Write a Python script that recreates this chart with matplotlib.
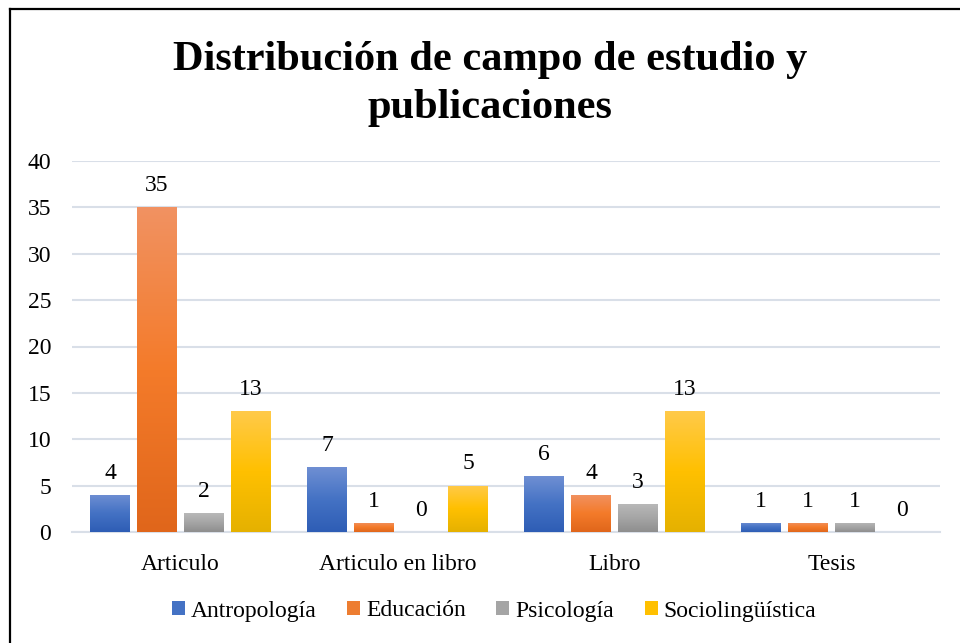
import numpy as np
import matplotlib.pyplot as plt
from matplotlib.colors import LinearSegmentedColormap
from matplotlib.patches import Patch

plt.rcParams['font.family'] = ['Liberation Serif', 'DejaVu Serif']

# Data
categories = ['Articulo', 'Articulo en libro', 'Libro', 'Tesis']
series = ['Antropología', 'Educación', 'Psicología', 'Sociolingüística']
antropologia = [4, 7, 6, 1]
educacion = [35, 1, 4, 1]
psicologia = [2, 0, 3, 1]
sociolinguistica = [13, 5, 13, 0]
values = [antropologia, educacion, psicologia, sociolinguistica]

# gradient stops (top, middle, bottom) per series
grad_colors = [
    ['#6f8fd3', '#4472c4', '#2e5db5'],
    ['#f19262', '#f47b2a', '#e0661b'],
    ['#b8b8b8', '#a5a5a5', '#8e8e8e'],
    ['#ffca4a', '#ffc000', '#e5b100'],
]
legend_colors = ['#4472c4', '#ed7d31', '#a5a5a5', '#ffc000']
grid_color = '#d9dfe8'

fig = plt.figure(figsize=(9.6, 6.43), dpi=100)
W, H = 960, 643

# chart border (cropped: only left and top edges visible)
fig.add_artist(plt.Line2D([10 / W, 10 / W], [0, 1 - 9 / H], color='black', lw=1.6))
fig.add_artist(plt.Line2D([10 / W, 1], [1 - 9 / H, 1 - 9 / H], color='black', lw=1.6))

ax = fig.add_axes([72 / W, 1 - 532 / H, 868 / W, 371 / H])

x = np.arange(len(categories))
bar_w = 0.18
step = 0.2166

grad = np.linspace(0, 1, 256).reshape(-1, 1)
for i, (vals, cols) in enumerate(zip(values, grad_colors)):
    cmap = LinearSegmentedColormap.from_list(f'g{i}', cols[::-1])
    pos = x + (i - 1.5) * step
    bars = ax.bar(pos, vals, width=bar_w, color='none', edgecolor='none', zorder=3)
    for b, v in zip(bars, vals):
        bx, bw = b.get_x(), b.get_width()
        if v > 0:
            im = ax.imshow(grad, cmap=cmap, aspect='auto', origin='lower',
                           extent=[bx, bx + bw, 0, v], zorder=3)
            im.set_clip_path(b)
        ax.text(bx + bw / 2, v + 1.2, str(v), ha='center', va='bottom',
                fontsize=17, zorder=4)

ax.set_xlim(-0.5, len(categories) - 0.5)
ax.set_ylim(0, 40)
ax.set_yticks(range(0, 41, 5))
ax.set_xticks(x)
ax.set_xticklabels(categories)
ax.tick_params(axis='both', length=0, labelsize=17, colors='black')
ax.tick_params(axis='y', pad=15)
ax.tick_params(axis='x', pad=16)
ax.grid(axis='y', color=grid_color, lw=1.5, zorder=0)
ax.set_axisbelow(True)
for s in ['top', 'right', 'left']:
    ax.spines[s].set_visible(False)
ax.spines['bottom'].set_color(grid_color)
ax.spines['bottom'].set_linewidth(1.5)

fig.text(490 / W, 1 - 84 / H, 'Distribución de campo de estudio y\npublicaciones',
         ha='center', va='center', fontsize=30.5, fontweight='bold', linespacing=1.32)

handles = [Patch(facecolor=c, edgecolor='none') for c in legend_colors]
fig.legend(handles, series, loc='center', bbox_to_anchor=(494 / W, 1 - 611 / H),
           ncol=4, frameon=False, fontsize=17, handlelength=0.55, handleheight=0.55,
           handletextpad=0.25, columnspacing=1.3)

fig.savefig('out.png', dpi=100)
